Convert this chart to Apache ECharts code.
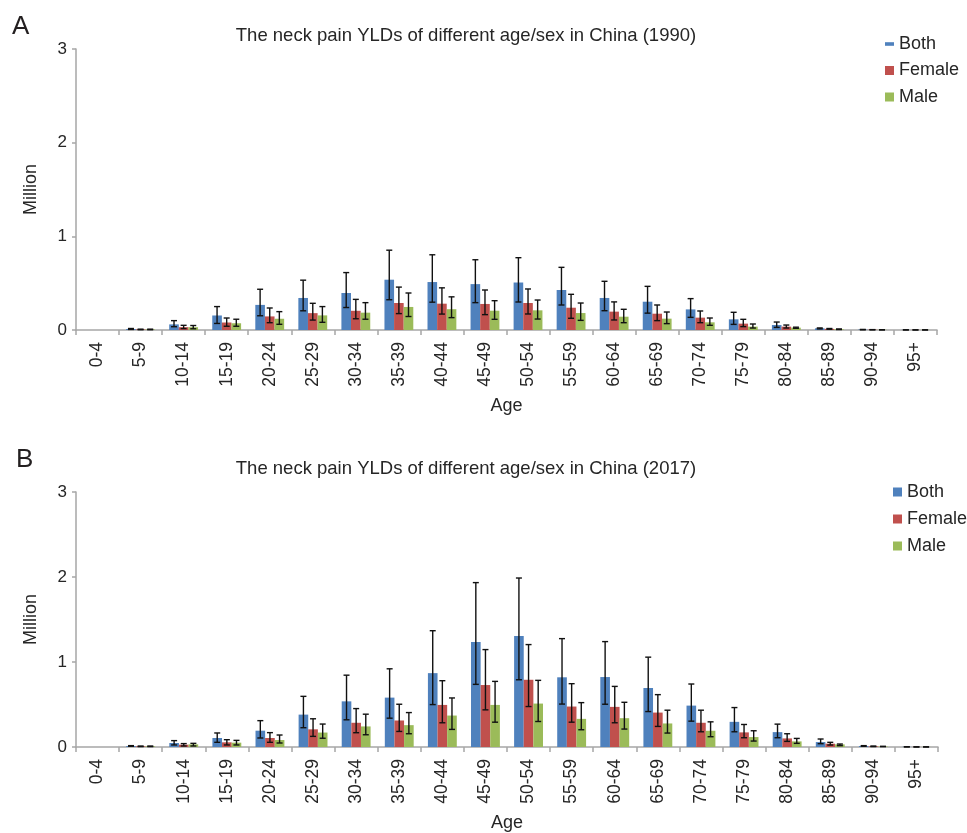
<!DOCTYPE html>
<html>
<head>
<meta charset="utf-8">
<script src="https://cdn.jsdelivr.net/npm/echarts@6/dist/echarts.min.js"></script>
<style>
html,body{margin:0;padding:0;background:#fff;}
#chart{width:967px;height:833px;}
</style>
</head>
<body>
<div id="chart"></div>
<script>
const categories = ['0-4','5-9','10-14','15-19','20-24','25-29','30-34','35-39','40-44','45-49','50-54','55-59','60-64','65-69','70-74','75-79','80-84','85-89','90-94','95+'];
const yTicks = [0, 1, 2, 3];

// 1990
const both1990     = [0, 0.011, 0.060, 0.155, 0.268, 0.342, 0.395, 0.537, 0.512, 0.490, 0.507, 0.427, 0.342, 0.302, 0.220, 0.114, 0.053, 0.018, 0.004, 0.001];
const bothLo1990   = [0, 0.006, 0.035, 0.070, 0.152, 0.205, 0.240, 0.323, 0.297, 0.292, 0.299, 0.267, 0.206, 0.180, 0.135, 0.060, 0.028, 0.012, 0.002, 0.0005];
const bothHi1990   = [0, 0.016, 0.100, 0.250, 0.435, 0.532, 0.613, 0.852, 0.803, 0.750, 0.772, 0.669, 0.520, 0.466, 0.335, 0.189, 0.085, 0.022, 0.006, 0.002];
const female1990   = [0, 0.006, 0.030, 0.080, 0.145, 0.180, 0.205, 0.288, 0.281, 0.278, 0.288, 0.238, 0.196, 0.174, 0.132, 0.068, 0.036, 0.012, 0.003, 0.001];
const femaleLo1990 = [0, 0.003, 0.015, 0.040, 0.078, 0.106, 0.120, 0.175, 0.170, 0.164, 0.171, 0.125, 0.107, 0.100, 0.078, 0.036, 0.021, 0.008, 0.002, 0.0005];
const femaleHi1990 = [0, 0.009, 0.050, 0.128, 0.235, 0.285, 0.327, 0.458, 0.450, 0.427, 0.438, 0.381, 0.300, 0.267, 0.203, 0.114, 0.053, 0.016, 0.004, 0.0015];
const male1990     = [0, 0.006, 0.030, 0.072, 0.120, 0.156, 0.185, 0.246, 0.222, 0.206, 0.210, 0.181, 0.142, 0.121, 0.082, 0.036, 0.025, 0.008, 0.002, 0.001];
const maleLo1990   = [0, 0.003, 0.013, 0.040, 0.061, 0.082, 0.115, 0.144, 0.132, 0.114, 0.117, 0.103, 0.078, 0.068, 0.050, 0.021, 0.018, 0.005, 0.001, 0.0005];
const maleHi1990   = [0, 0.009, 0.048, 0.115, 0.196, 0.250, 0.292, 0.395, 0.354, 0.313, 0.320, 0.288, 0.221, 0.192, 0.128, 0.064, 0.030, 0.011, 0.003, 0.0015];

// 2017
const both2017     = [0, 0.012, 0.047, 0.106, 0.192, 0.381, 0.537, 0.581, 0.869, 1.236, 1.306, 0.820, 0.823, 0.694, 0.487, 0.296, 0.175, 0.058, 0.012, 0.002];
const bothLo2017   = [0, 0.008, 0.024, 0.055, 0.106, 0.227, 0.320, 0.339, 0.499, 0.737, 0.791, 0.505, 0.503, 0.417, 0.304, 0.179, 0.109, 0.039, 0.008, 0.001];
const bothHi2017   = [0, 0.016, 0.075, 0.165, 0.310, 0.596, 0.845, 0.920, 1.368, 1.934, 1.988, 1.275, 1.240, 1.057, 0.741, 0.464, 0.269, 0.094, 0.016, 0.003];
const female2017   = [0, 0.008, 0.027, 0.055, 0.106, 0.208, 0.285, 0.312, 0.495, 0.729, 0.791, 0.476, 0.472, 0.405, 0.285, 0.172, 0.101, 0.039, 0.008, 0.001];
const femaleLo2017 = [0, 0.005, 0.012, 0.024, 0.055, 0.125, 0.168, 0.183, 0.285, 0.437, 0.476, 0.292, 0.285, 0.242, 0.179, 0.109, 0.066, 0.023, 0.005, 0.0005];
const femaleHi2017 = [0, 0.011, 0.040, 0.086, 0.169, 0.332, 0.452, 0.503, 0.780, 1.146, 1.205, 0.745, 0.713, 0.616, 0.433, 0.265, 0.156, 0.055, 0.011, 0.0015];
const male2017     = [0, 0.008, 0.031, 0.051, 0.082, 0.170, 0.242, 0.257, 0.370, 0.495, 0.511, 0.331, 0.339, 0.277, 0.191, 0.117, 0.066, 0.031, 0.006, 0.001];
const maleLo2017   = [0, 0.005, 0.012, 0.024, 0.047, 0.103, 0.144, 0.156, 0.207, 0.292, 0.300, 0.203, 0.211, 0.164, 0.121, 0.070, 0.043, 0.016, 0.004, 0.0005];
const maleHi2017   = [0, 0.011, 0.043, 0.078, 0.141, 0.270, 0.386, 0.405, 0.577, 0.772, 0.784, 0.522, 0.526, 0.433, 0.296, 0.191, 0.101, 0.035, 0.008, 0.0015];

const seriesNames = ['Both', 'Female', 'Male'];
const colors = ['#4F81BD', '#C0504D', '#9BBB59'];
const titles = ['The neck pain YLDs of different age/sex in China (1990)', 'The neck pain YLDs of different age/sex in China (2017)'];

const FONT = '"Liberation Sans", Arial, Helvetica, sans-serif';
const GAP = 0.33;

const chart = echarts.init(document.getElementById('chart'), null, {renderer: 'canvas'});

function errSeries(name, k, gi, lo, hi) {
  return {
    type: 'custom',
    name: name,
    xAxisIndex: gi,
    yAxisIndex: gi,
    z: 5,
    silent: true,
    data: categories.map((c, i) => [i, lo[i], hi[i]]),
    renderItem: function (params, api) {
      const idx = api.value(0);
      const l = api.value(1), h = api.value(2);
      if (!(h > 0)) return null;
      const base = api.coord([idx, 0]);
      const band = api.size([1, 0])[0];
      const bw = band * (1 - GAP) / 3;
      const xc = base[0] + (k - 1) * bw;
      const yl = api.coord([idx, l])[1];
      const yh = api.coord([idx, h])[1];
      const cw = 3;
      const st = {stroke: '#111', lineWidth: 1.4};
      return {
        type: 'group',
        children: [
          {type: 'line', shape: {x1: xc, y1: yl, x2: xc, y2: yh}, style: st},
          {type: 'line', shape: {x1: xc - cw, y1: yh, x2: xc + cw, y2: yh}, style: st},
          {type: 'line', shape: {x1: xc - cw, y1: yl, x2: xc + cw, y2: yl}, style: st}
        ]
      };
    }
  };
}

function barSeries(name, k, gi, vals) {
  return {
    type: 'bar',
    name: name,
    xAxisIndex: gi,
    yAxisIndex: gi,
    barGap: '0%',
    barCategoryGap: (GAP * 100) + '%',
    itemStyle: {color: colors[k]},
    data: vals
  };
}

function xAxis(gi) {
  return {
    type: 'category',
    gridIndex: gi,
    data: categories,
    boundaryGap: true,
    name: 'Age',
    nameLocation: 'middle',
    nameGap: 67,
    nameTextStyle: {fontFamily: FONT, fontSize: 18, color: '#262626'},
    axisLine: {show: true, lineStyle: {color: '#a6a6a6', width: 1.5}},
    axisTick: {show: true, length: 5, interval: 0, lineStyle: {color: '#a6a6a6', width: 1.5}},
    axisLabel: {interval: 0, rotate: 90, margin: 12, fontFamily: FONT, fontSize: 17.5, color: '#262626'},
    splitLine: {show: false}
  };
}

function yAxis(gi) {
  return {
    type: 'value',
    gridIndex: gi,
    min: yTicks[0],
    max: yTicks[yTicks.length - 1],
    interval: 1,
    name: 'Million',
    nameLocation: 'middle',
    nameRotate: 90,
    nameGap: 36,
    nameTextStyle: {fontFamily: FONT, fontSize: 18, color: '#262626'},
    axisLine: {show: true, lineStyle: {color: '#a6a6a6', width: 1.5}},
    axisTick: {show: true, length: 4, lineStyle: {color: '#a6a6a6', width: 1.5}},
    axisLabel: {margin: 9, fontFamily: FONT, fontSize: 17, color: '#262626'},
    splitLine: {show: false}
  };
}

const option = {
  backgroundColor: '#ffffff',
  animation: false,
  title: [
    {text: 'A', left: 12, top: 14, padding: 0, textStyle: {fontFamily: FONT, fontSize: 26, fontWeight: 'normal', color: '#231f20'}},
    {text: 'B', left: 16, top: 447, padding: 0, textStyle: {fontFamily: FONT, fontSize: 26, fontWeight: 'normal', color: '#231f20'}},
    {text: titles[0], left: 461, textAlign: 'center', top: 21, textStyle: {fontFamily: FONT, fontSize: 18.5, fontWeight: 'normal', color: '#262626'}},
    {text: titles[1], left: 461, textAlign: 'center', top: 454, textStyle: {fontFamily: FONT, fontSize: 18.5, fontWeight: 'normal', color: '#262626'}}
  ],
  legend: [
    {
      data: [{name: 'Both', icon: 'path://M0,0h10v4h-10z'}, {name: 'Female'}, {name: 'Male'}],
      orient: 'vertical', left: 885, top: 34, padding: 0,
      itemWidth: 9, itemHeight: 9, itemGap: 6.5, icon: 'rect',
      textStyle: {fontFamily: FONT, fontSize: 18, color: '#262626', lineHeight: 20}
    },
    {
      data: seriesNames, orient: 'vertical', left: 893, top: 482, padding: 0,
      itemWidth: 9, itemHeight: 9, itemGap: 7, icon: 'rect',
      textStyle: {fontFamily: FONT, fontSize: 18, color: '#262626', lineHeight: 20}
    }
  ],
  grid: [
    {left: 76, right: 30, top: 49, height: 281},
    {left: 76, right: 29, top: 492, height: 256}
  ],
  xAxis: [xAxis(0), xAxis(1)],
  yAxis: [yAxis(0), yAxis(1)],
  series: [
    barSeries('Both', 0, 0, both1990),
    barSeries('Female', 1, 0, female1990),
    barSeries('Male', 2, 0, male1990),
    errSeries('errBoth1990', 0, 0, bothLo1990, bothHi1990),
    errSeries('errFemale1990', 1, 0, femaleLo1990, femaleHi1990),
    errSeries('errMale1990', 2, 0, maleLo1990, maleHi1990),
    barSeries('Both', 0, 1, both2017),
    barSeries('Female', 1, 1, female2017),
    barSeries('Male', 2, 1, male2017),
    errSeries('errBoth2017', 0, 1, bothLo2017, bothHi2017),
    errSeries('errFemale2017', 1, 1, femaleLo2017, femaleHi2017),
    errSeries('errMale2017', 2, 1, maleLo2017, maleHi2017)
  ]
};
chart.setOption(option);
</script>
</body>
</html>
